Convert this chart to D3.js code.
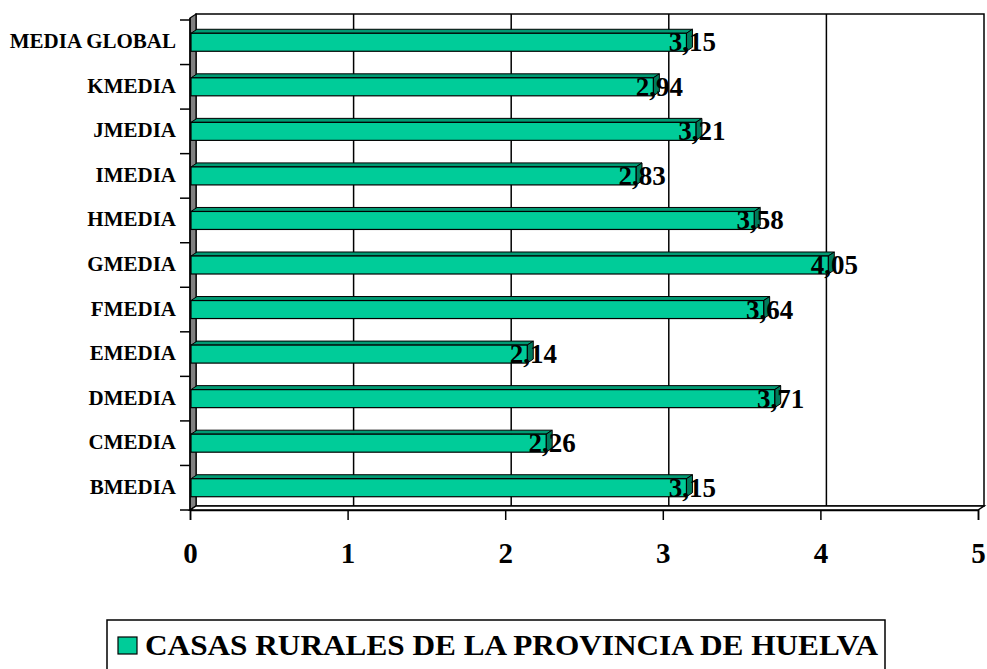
<!DOCTYPE html>
<html>
<head>
<meta charset="utf-8">
<script src="https://cdn.jsdelivr.net/npm/d3@7"></script>
<style>
  body { margin: 0; background: #fff; }
  svg { display: block; }
  text { font-family: "Liberation Serif", "Times New Roman", serif; font-weight: bold; fill: #000; }
</style>
</head>
<body>
<svg id="chart" width="987" height="669"></svg>
<script>
// Chart data (top to bottom as drawn)
const categories = ["MEDIA GLOBAL", "KMEDIA", "JMEDIA", "IMEDIA", "HMEDIA", "GMEDIA",
                    "FMEDIA", "EMEDIA", "DMEDIA", "CMEDIA", "BMEDIA"];
const values = [3.15, 2.94, 3.21, 2.83, 3.58, 4.05, 3.64, 2.14, 3.71, 2.26, 3.15];
const xTicks = [0, 1, 2, 3, 4, 5];
const seriesName = "CASAS RURALES DE LA PROVINCIA DE HUELVA";

// Layout
const svg = d3.select("#chart");
const depth = { dx: 6, dy: 4 };      // wall offset
const barDepth = { dx: 6, dy: 4 };   // bar offset
const front = { left: 190, right: 978, top: 18, bottom: 510 };

const x = d3.scaleLinear().domain([0, 5]).range([front.left, front.right]);
const yBand = d3.scaleBand().domain(categories).range([front.top + 2, front.bottom]);

// Back wall
const back = svg.append("g");
back.append("rect")
  .attr("x", front.left + depth.dx).attr("y", front.top - depth.dy)
  .attr("width", front.right - front.left).attr("height", front.bottom - front.top)
  .attr("fill", "#fff").attr("stroke", "#000").attr("stroke-width", 1.5);

back.selectAll("line.grid")
  .data(xTicks.slice(1, -1)).enter()
  .append("line")
  .attr("x1", d => x(d) + depth.dx).attr("x2", d => x(d) + depth.dx)
  .attr("y1", front.top - depth.dy).attr("y2", front.bottom - depth.dy)
  .attr("stroke", "#000").attr("stroke-width", 1.5);

// Left wall
const poly = pts => pts.map(p => p.join(",")).join(" ");
svg.append("polygon")
  .attr("points", poly([[front.left, front.top], [front.left + depth.dx, front.top - depth.dy],
                        [front.left + depth.dx, front.bottom - depth.dy], [front.left, front.bottom]]))
  .attr("fill", "#808080").attr("stroke", "#000").attr("stroke-width", 1.2);

// Floor
svg.append("polygon")
  .attr("points", poly([[front.left, front.bottom], [front.left + depth.dx, front.bottom - depth.dy],
                        [front.right + depth.dx, front.bottom - depth.dy], [front.right, front.bottom]]))
  .attr("fill", "#fff").attr("stroke", "#000").attr("stroke-width", 1.5);

// Axes
const xAxis = svg.append("g").attr("transform", `translate(0,${front.bottom})`)
  .call(d3.axisBottom(x).tickValues(xTicks).tickSize(10).tickFormat(d3.format("d")));
xAxis.select(".domain").attr("stroke-width", 1.5);
xAxis.selectAll(".tick line").attr("stroke-width", 1.5);
xAxis.selectAll(".tick text").attr("dy", 0).attr("y", 53).style("font-size", "29px");

const yTicks = d3.range(categories.length + 1).map(i => front.top + 2 + i * yBand.step());
svg.append("line")
  .attr("x1", front.left).attr("x2", front.left)
  .attr("y1", front.top).attr("y2", front.bottom)
  .attr("stroke", "#000").attr("stroke-width", 1.5);
svg.selectAll("line.ytick")
  .data(yTicks).enter()
  .append("line")
  .attr("x1", front.left - 10).attr("x2", front.left)
  .attr("y1", d => d).attr("y2", d => d)
  .attr("stroke", "#000").attr("stroke-width", 1.5);

svg.selectAll("text.cat")
  .data(categories).enter()
  .append("text")
  .attr("x", 176)
  .attr("y", d => yBand(d) + yBand.bandwidth() / 2 - 1)
  .attr("text-anchor", "end")
  .attr("dominant-baseline", "central")
  .style("font-size", "21px")
  .text(d => d);

// Bars
const bars = svg.selectAll("g.bar")
  .data(categories.map((c, i) => ({ name: c, value: values[i] }))).enter()
  .append("g");

const bh = 18;
const by = d => yBand(d.name) + yBand.bandwidth() / 2 - bh / 2;

bars.append("polygon") // top face
  .attr("points", d => {
    const x0 = x(0) + 1, x1 = x(d.value), t = by(d);
    return poly([[x0, t], [x0 + barDepth.dx, t - barDepth.dy], [x1 + barDepth.dx, t - barDepth.dy], [x1, t]]);
  })
  .attr("fill", "#009a73").attr("stroke", "#000").attr("stroke-width", 1);

bars.append("polygon") // end face
  .attr("points", d => {
    const x1 = x(d.value), t = by(d);
    return poly([[x1, t], [x1 + barDepth.dx, t - barDepth.dy], [x1 + barDepth.dx, t + bh - barDepth.dy], [x1, t + bh]]);
  })
  .attr("fill", "#007a5c").attr("stroke", "#000").attr("stroke-width", 1);

bars.append("rect") // front face
  .attr("x", x(0) + 1)
  .attr("y", d => by(d))
  .attr("width", d => x(d.value) - x(0) - 1)
  .attr("height", bh)
  .attr("fill", "#00cc99").attr("stroke", "#000").attr("stroke-width", 1.2);

const fmt = v => v.toFixed(2).replace(".", ",");
bars.append("text")
  .attr("x", d => x(d.value) + 6)
  .attr("y", d => by(d) + bh / 2)
  .attr("text-anchor", "middle")
  .attr("dominant-baseline", "central")
  .style("font-size", "27px")
  .text(d => fmt(d.value));

// Legend
const legend = svg.append("g");
legend.append("rect")
  .attr("x", 107).attr("y", 620).attr("width", 778).attr("height", 60)
  .attr("fill", "#fff").attr("stroke", "#000").attr("stroke-width", 1.5);
legend.append("rect")
  .attr("x", 118).attr("y", 637).attr("width", 19).attr("height", 17)
  .attr("fill", "#00cc99").attr("stroke", "#000").attr("stroke-width", 1.2);
legend.append("text")
  .attr("x", 145).attr("y", 655)
  .attr("textLength", 733).attr("lengthAdjust", "spacingAndGlyphs")
  .style("font-size", "30px")
  .text(seriesName);
</script>
</body>
</html>
